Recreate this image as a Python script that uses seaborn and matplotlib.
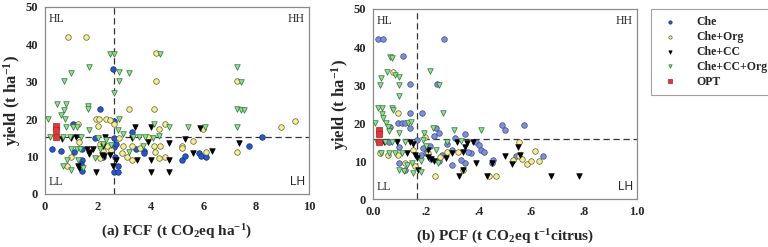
import pandas as pd
import matplotlib
matplotlib.use("Agg")
import matplotlib.pyplot as plt
import seaborn as sns

sns.set_theme(style="white")
plt.rcParams["font.family"] = ["Liberation Serif", "DejaVu Serif"]
plt.rcParams["mathtext.default"] = "regular"

groups = ["Che", "Che+Org", "Che+CC", "Che+CC+Org", "OPT"]

# ---- (a) FCF panel ----
che_a_x = [0.28, 0.6, 1.05, 1.1, 1.4, 1.4, 1.4, 1.35, 2.1, 2.56, 2.6, 2.6, 2.6, 2.65, 2.6, 2.76, 2.77, 2.7,
           3.3, 3.75, 3.75, 5.2, 5.3, 5.85, 5.9, 6.1, 8.2, 7.73, 1.9, 3.45, 2.2]
che_a_y = [12.1, 11.4, 18.8, 11.3, 12.0, 9.1, 6.2, 8.0, 22.6, 33.5, 19.5, 15.1, 12.6, 10.0, 6.0, 6.0, 7.6, 13.5,
           16.6, 11.5, 11.0, 9.1, 10.2, 10.9, 10.2, 10.0, 15.2, 12.8, 15.0, 12.0, 10.0]

org_a_x = [0.88, 1.55, 4.2, 4.2, 4.13, 3.17, 7.28, 9.45, 8.95, 7.28, 1.24, 1.95, 2.05, 2.3, 2.45, 2.0, 2.6,
           4.54, 4.3, 6.0, 5.6, 5.2, 5.2, 6.1, 4.56, 4.3, 2.1, 0.97, 0.82, 2.08, 2.35, 2.94, 3.3, 3.3, 3.1,
           3.6, 3.9, 4.13, 4.16, 4.35, 2.2, 2.5, 2.8, 1.3, 2.9]
org_a_y = [42.1, 42.1, 37.7, 30.2, 22.6, 22.6, 30.2, 19.6, 18.0, 11.3, 18.8, 20.1, 20.1, 20.1, 19.8, 18.1, 18.8,
           18.8, 17.3, 17.3, 14.3, 12.9, 12.3, 11.3, 10.0, 9.5, 9.5, 10.0, 7.6, 13.3, 12.7, 12.7, 12.7, 9.1, 10.0,
           12.2, 15.2, 12.7, 11.3, 12.7, 11.5, 11.8, 15.0, 14.0, 11.0]

cc_a_x = [0.63, 1.17, 1.26, 1.3, 1.6, 1.67, 1.7, 1.8, 1.93, 2.15, 2.22, 2.27, 2.2, 2.56, 2.69, 3.4, 3.5,
          4.03, 4.03, 4.03, 4.7, 4.7, 4.7, 5.3, 5.6, 5.87, 6.34, 7.35, 1.0, 2.45, 3.9, 3.3]
cc_a_y = [14.6, 15.2, 7.6, 6.9, 12.0, 10.7, 11.2, 12.0, 5.8, 10.4, 10.2, 15.2, 12.7, 7.6, 9.1, 18.0, 9.1,
          18.0, 9.1, 5.8, 13.6, 9.1, 5.8, 14.6, 10.9, 17.6, 11.6, 13.6, 15.0, 10.5, 14.0, 15.0]

ccorg_a_x = [0.13, 0.19, 0.44, 0.8, 0.6, 0.73, 0.76, 0.73, 0.98, 1.68, 1.64, 1.64, 0.8, 1.07, 0.4, 0.7, 0.95,
             1.35, 0.97, 1.2, 0.82, 0.69, 0.98, 1.26, 1.32, 1.2, 1.68, 2.46, 2.6, 2.6, 2.81, 2.81, 3.19, 2.81,
             2.77, 2.94, 4.35, 4.13, 4.1, 4.7, 5.4, 6.07, 7.28, 7.28, 7.42, 7.55, 7.43, 7.28, 3.35, 3.55, 3.8,
             3.2, 3.7, 2.2, 2.3, 2.1, 1.45, 2.0, 2.5, 4.3, 1.9]
ccorg_a_y = [20.1, 15.2, 24.1, 24.1, 21.0, 22.5, 20.0, 30.1, 32.3, 34.0, 23.6, 22.7, 18.0, 18.0, 15.2, 15.2, 15.2,
             15.2, 12.0, 12.0, 9.1, 7.6, 6.4, 9.1, 12.0, 18.0, 17.0, 37.5, 37.3, 27.0, 32.7, 30.1, 32.3, 20.1,
             17.1, 16.0, 37.3, 18.8, 15.0, 18.0, 18.0, 18.0, 33.9, 22.6, 22.5, 22.5, 30.0, 18.0, 15.2, 15.2, 15.2,
             11.3, 12.7, 13.5, 14.4, 12.0, 7.0, 15.0, 13.0, 15.5, 9.5]

opt_a_x = [0.4, 0.4, 0.4]
opt_a_y = [18.3, 17.1, 15.2]

# ---- (b) PCF panel ----
che_b_x = [0.02, 0.038, 0.268, 0.113, 0.139, 0.243, 0.14, 0.184, 0.487, 0.573, 0.5, 0.066, 0.095, 0.108, 0.12,
           0.14, 0.24, 0.25, 0.35, 0.39, 0.4, 0.41, 0.42, 0.456, 0.45, 0.645, 0.54, 0.35, 0.335, 0.37, 0.19,
           0.2, 0.22, 0.26, 0.28, 0.3, 0.165, 0.1, 0.1, 0.12, 0.18, 0.3, 0.36, 0.23, 0.06, 0.31, 0.25, 0.215]
che_b_y = [42.1, 42.1, 42.1, 37.6, 30.2, 30.2, 22.6, 22.6, 19.6, 19.6, 18.1, 19.0, 20.0, 20.0, 20.0,
           18.8, 18.8, 17.5, 17.2, 15.0, 14.3, 13.0, 12.5, 10.2, 9.4, 11.3, 11.3, 9.4, 10.2, 12.0, 13.5,
           12.0, 10.5, 11.5, 14.5, 13.0, 15.5, 13.6, 9.5, 7.6, 11.5, 9.0, 12.5, 16.5, 15.0, 16.0, 10.0, 14.0]

org_b_x = [0.076, 0.095, 0.025, 0.057, 0.095, 0.12, 0.16, 0.196, 0.235, 0.34, 0.44, 0.464, 0.552, 0.53,
           0.552, 0.566, 0.582, 0.6, 0.614, 0.63, 0.253, 0.21, 0.28, 0.15, 0.32]
org_b_y = [33.3, 22.6, 12.1, 11.5, 11.5, 9.4, 8.8, 16.4, 6.2, 7.6, 6.2, 6.2, 15.1, 10.4,
           11.3, 10.6, 9.2, 10.0, 12.7, 9.9, 11.0, 12.0, 12.5, 13.0, 12.5]

cc_b_x = [0.089, 0.13, 0.15, 0.16, 0.165, 0.17, 0.21, 0.21, 0.22, 0.23, 0.276, 0.324, 0.342, 0.35, 0.356,
          0.3, 0.34, 0.39, 0.43, 0.452, 0.5, 0.525, 0.548, 0.555, 0.675, 0.782, 0.317, 0.38, 0.04, 0.14]
cc_b_y = [15.0, 12.0, 14.6, 11.5, 10.7, 7.6, 12.9, 11.2, 10.5, 10.0, 10.7, 6.0, 7.6, 13.8, 14.8,
          12.0, 12.5, 9.4, 6.2, 9.4, 11.3, 9.1, 13.6, 11.5, 6.0, 6.0, 15.1, 15.0, 15.0, 15.0]

ccorg_b_x = [0.009, 0.019, 0.035, 0.032, 0.025, 0.053, 0.066, 0.072, 0.085, 0.097, 0.097, 0.099, 0.07, 0.076,
             0.035, 0.038, 0.048, 0.058, 0.06, 0.133, 0.143, 0.216, 0.25, 0.266, 0.192, 0.228, 0.306, 0.408,
             0.015, 0.045, 0.07, 0.12, 0.03, 0.06, 0.085, 0.11, 0.1, 0.116, 0.152, 0.18, 0.146, 0.247, 0.19,
             0.2, 0.24, 0.28, 0.335, 0.18, 0.13, 0.1]
ccorg_b_y = [20.1, 24.0, 24.0, 31.9, 30.0, 33.5, 37.4, 37.2, 32.6, 32.2, 30.0, 27.0, 24.0, 23.3,
             22.5, 21.2, 20.1, 19.0, 17.8, 20.1, 20.3, 33.7, 30.0, 22.6, 17.5, 18.8, 18.1, 18.1,
             15.0, 15.0, 15.0, 15.0, 12.1, 12.2, 12.0, 12.1, 7.6, 7.4, 6.8, 7.0, 9.4, 9.4, 15.5,
             14.0, 13.0, 15.0, 15.3, 10.0, 9.0, 17.5]

opt_b_x = [0.023, 0.023, 0.023]
opt_b_y = [18.3, 17.0, 14.9]

panel_a = {"Che": (che_a_x, che_a_y), "Che+Org": (org_a_x, org_a_y), "Che+CC": (cc_a_x, cc_a_y),
           "Che+CC+Org": (ccorg_a_x, ccorg_a_y), "OPT": (opt_a_x, opt_a_y)}
panel_b = {"Che": (che_b_x, che_b_y), "Che+Org": (org_b_x, org_b_y), "Che+CC": (cc_b_x, cc_b_y),
           "Che+CC+Org": (ccorg_b_x, ccorg_b_y), "OPT": (opt_b_x, opt_b_y)}

# marker, face, edge
style_a = {"Che": ("o", "#2456d6", "#1a2f6a"), "Che+Org": ("o", "#f6f08c", "#5a5a3a"),
           "Che+CC": ("v", "black", "black"), "Che+CC+Org": ("v", "#8fe08a", "#2f6f3a"),
           "OPT": ("s", "#e8343a", "#b02020")}
style_b = dict(style_a)
style_b["Che"] = ("o", "#7b90dc", "#3a4a80")

fig = plt.figure(figsize=(7.68, 2.47), dpi=100)
ax1 = fig.add_axes([0.0586, 0.2146, 0.3438, 0.7571])
ax2 = fig.add_axes([0.4857, 0.194, 0.3438, 0.7696])


def draw(ax, panel, styles, xlim, vline, hline):
    for g in groups:
        xs, ys = panel[g]
        df = pd.DataFrame({"x": xs, "y": ys})
        m, fc, ec = styles[g]
        sns.scatterplot(data=df, x="x", y="y", ax=ax, marker=m, color=fc, edgecolor=ec,
                        linewidth=0.5, s=16 if m != "s" else 15, label=g, legend=False, zorder=3)
    ax.axvline(vline, color="#333333", ls=(0, (5, 3)), lw=0.9, zorder=2)
    ax.axhline(hline, color="#333333", ls=(0, (5, 3)), lw=0.9, zorder=2)
    ax.set_xlim(*xlim)
    ax.set_ylim(0, 50)
    ax.set_yticks(range(0, 51, 10))
    for sp in ax.spines.values():
        sp.set_color("#8a8a8a")
        sp.set_linewidth(0.9)
    ax.tick_params(axis="both", direction="out", length=3, width=0.8, color="#8a8a8a",
                   labelsize=9, pad=2)
    for lab in ax.get_xticklabels() + ax.get_yticklabels():
        lab.set_fontweight("bold")
    ax.set_ylabel("yield (t ha$^{-1}$)", fontsize=12, fontweight="bold", labelpad=2)
    ax.text(0.015, 0.97, "HL", transform=ax.transAxes, fontsize=8.5, va="top", ha="left")
    ax.text(0.985, 0.97, "HH", transform=ax.transAxes, fontsize=8.5, va="top", ha="right")
    ax.text(0.015, 0.03, "LL", transform=ax.transAxes, fontsize=8.5, va="bottom", ha="left")
    ax.text(0.985, 0.03, "LH", transform=ax.transAxes, fontsize=8.5, va="bottom", ha="right",
            family=["Liberation Sans", "DejaVu Sans"])


draw(ax1, panel_a, style_a, (0, 10), 2.6, 15.3)
ax1.set_xticks(range(0, 11, 2))
ax1.set_xticklabels([str(v) for v in range(0, 11, 2)], fontweight="bold")
ax1.set_xlabel("(a) FCF (t CO$_2$eq ha$^{-1}$)", fontsize=11, fontweight="bold", labelpad=7)

draw(ax2, panel_b, style_b, (0, 1.0), 0.165, 15.7)
ax2.set_xticks([0, 0.2, 0.4, 0.6, 0.8, 1.0])
ax2.set_xticklabels(["0.0", ".2", ".4", ".6", ".8", "1.0"], fontweight="bold")
ax2.set_xlabel("(b) PCF (t CO$_2$eq t$^{-1}$citrus)", fontsize=11, fontweight="bold", labelpad=7)

handles, labels = ax1.get_legend_handles_labels()
leg = fig.legend(handles, labels, loc="upper left", bbox_to_anchor=(0.848, 0.965),
                 frameon=True, fancybox=False, edgecolor="#8a8a8a",
                 markerscale=0.6, handletextpad=1.2, borderpad=0.6, labelspacing=0.25,
                 borderaxespad=0, prop={"weight": "bold", "size": 8.5})
leg.get_frame().set_linewidth(0.8)

fig.savefig("out.png", dpi=100)
